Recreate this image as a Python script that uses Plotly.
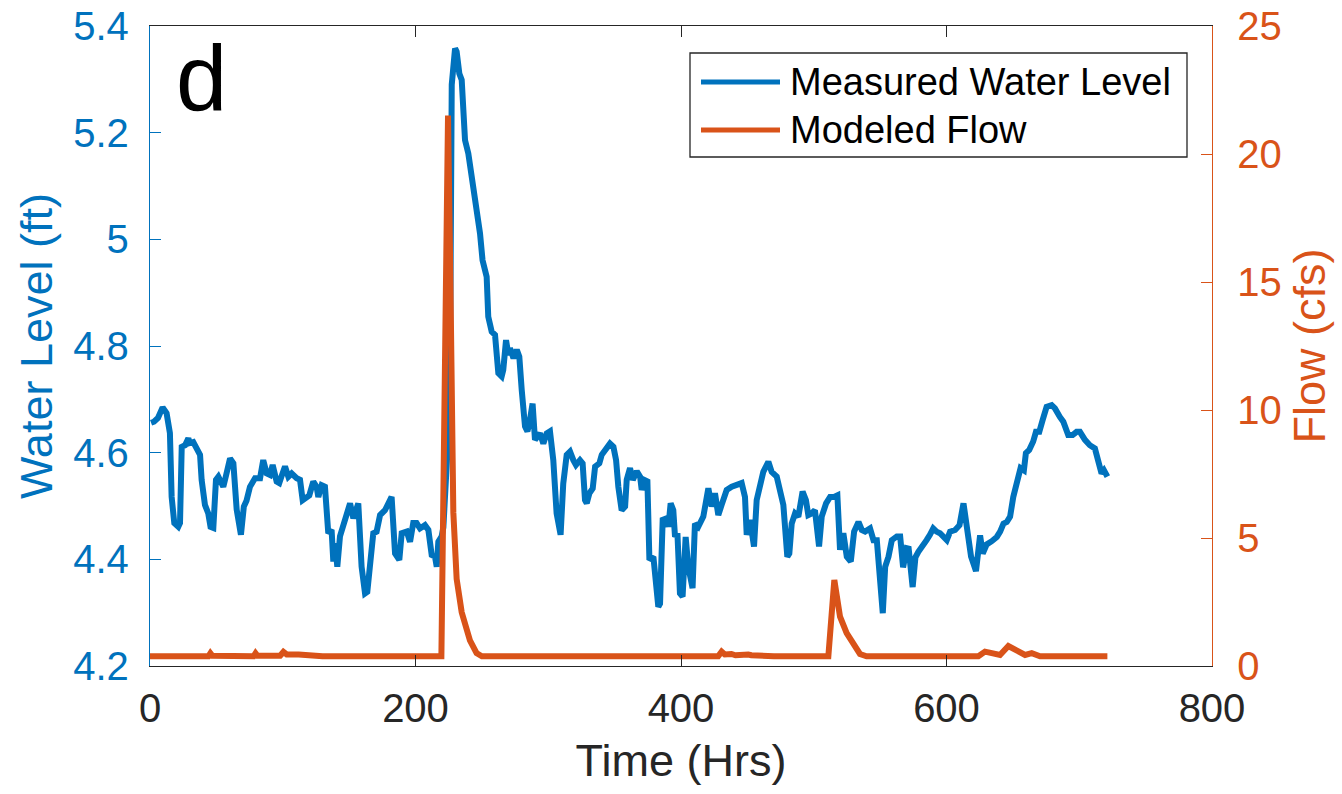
import plotly.graph_objects as go

# ---- data ----
level_hours = [0.8, 3, 6, 9.5, 12.5, 15, 16.3, 18.3, 21.3, 22.6, 23.9, 26.4, 28.9, 30, 32.6, 35, 37.7, 38.9,
               41.4, 43.9, 45.6, 47.7, 49.7, 51.5, 53.5, 55.2, 56.5, 58.2, 60.3, 62.8, 65.3, 68.5, 70.7, 72.7,
               75.3, 79.1, 82.9, 85.3, 87.9, 90.4, 92.4, 95.4, 97.4, 99, 101.7, 104.2, 106.7, 110.5, 113, 115,
               117.5, 120, 123, 125.5, 126.8, 129.3, 131.8, 134.3, 136.8, 138.1, 139.4, 141.1, 143.1, 146.1,
               149.4, 150.7, 153.2, 156.9, 159.4, 162, 163.7, 165.7, 168.2, 170.7, 173.3, 177, 180.3, 182,
               184.6, 187.8, 189.6, 193.4, 195.9, 198.3, 200.8, 203.4, 207.1, 209.7, 212.2, 214.7, 216, 217.2,
               219.7, 221, 224, 226, 227.3, 228.5, 229.8, 231, 233, 234.8, 236, 237.3, 239.8, 242.3, 244.8,
               248.6, 250.5, 253.6, 254.8, 257.4, 259.9, 262.4, 264.9, 266.1, 268.2, 270, 271.2, 273.8, 276.3,
               278.2, 280, 282.5, 284.3, 285.8, 288.2, 290, 293.8, 296.3, 298.8, 301.3, 303.8, 306.3, 309.3,
               311.3, 313.9, 316.4, 318.9, 320.9, 323.9, 325.9, 327.7, 329, 331, 333.5, 335.3, 338.5, 340.3,
               342.8, 346.5, 349.1, 351.1, 352.8, 355.3, 357.9, 359.1, 361.6, 363.7, 366.7, 369.2, 370.4,
               372.2, 374.7, 376.2, 379.2, 381.3, 382.9, 384.2, 386.2, 389.2, 390.5, 392.2, 394.2, 395.5,
               397.3, 399.2, 401.2, 403.5, 405.5, 408.7, 410.5, 413, 416.8, 420.6, 423.1, 425.6, 428.1, 430.6,
               434.4, 438.2, 441.9, 445.7, 448.2, 449.5, 452, 455, 457, 459.5, 462, 465.8, 468.3, 472.1, 474.6,
               477.1, 480.1, 481.6, 483.4, 485.9, 488.4, 491.6, 494.1, 495.9, 498.4, 500.9, 504, 506, 509.3,
               512.3, 515.3, 517.8, 519.8, 522.3, 524.9, 527.9, 530.4, 533.7, 536.2, 538.7, 542.4, 545, 547.5,
               550, 552, 553.8, 556.3, 558.8, 562.6, 565.1, 567.3, 570, 571.5, 574.5, 576.6, 578.8, 582.5, 585,
               587.5, 590, 592.5, 595.1, 600.2, 602.7, 606.5, 609.8, 612.8, 615.3, 618.5, 622.2, 625.3, 627.3,
               630.3, 634.1, 637.9, 640.4, 642.9, 645.4, 647.9, 650.3, 652.8, 655.8, 658.3, 659.8, 662.3, 665.3,
               667.4, 669.9, 672.4, 675.4, 679.2, 681.7, 685.4, 688, 691.7, 695, 698, 700.5, 704.3, 708, 711.8,
               714.3, 716.8, 718.6, 721.2]
water_level = [4.656, 4.658, 4.665, 4.685, 4.674, 4.637, 4.517, 4.468, 4.461, 4.468, 4.611, 4.614, 4.627, 4.618,
               4.62, 4.611, 4.596, 4.549, 4.502, 4.486, 4.461, 4.459, 4.549, 4.555, 4.546, 4.536, 4.549, 4.571,
               4.589, 4.58, 4.493, 4.446, 4.499, 4.51, 4.536, 4.552, 4.552, 4.586, 4.561, 4.558, 4.577, 4.546,
               4.543, 4.555, 4.574, 4.555, 4.561, 4.552, 4.549, 4.511, 4.517, 4.52, 4.546, 4.536, 4.517, 4.539,
               4.536, 4.449, 4.455, 4.396, 4.43, 4.386, 4.443, 4.468, 4.489, 4.505, 4.477, 4.505, 4.386, 4.336,
               4.339, 4.396, 4.449, 4.452, 4.483, 4.492, 4.508, 4.517, 4.411, 4.399, 4.449, 4.452, 4.433, 4.468,
               4.468, 4.458, 4.464, 4.455, 4.408, 4.405, 4.386, 4.433, 4.443, 4.46, 4.6, 4.76, 5.29, 5.34, 5.358,
               5.352, 5.311, 5.299, 5.255, 5.186, 5.161, 5.118, 5.086, 5.011, 4.961, 4.93, 4.855, 4.827, 4.821,
               4.749, 4.743, 4.755, 4.811, 4.783, 4.796, 4.777, 4.793, 4.78, 4.718, 4.649, 4.64, 4.655, 4.692,
               4.624, 4.636, 4.617, 4.636, 4.64, 4.586, 4.486, 4.446, 4.542, 4.596, 4.602, 4.586, 4.577, 4.586,
               4.58, 4.511, 4.505, 4.524, 4.533, 4.574, 4.58, 4.596, 4.605, 4.617, 4.611, 4.586, 4.536, 4.492,
               4.499, 4.549, 4.571, 4.549, 4.565, 4.555, 4.53, 4.549, 4.546, 4.399, 4.405, 4.361, 4.311, 4.317,
               4.474, 4.477, 4.461, 4.505, 4.492, 4.442, 4.449, 4.336, 4.33, 4.442, 4.386, 4.346, 4.467, 4.461,
               4.48, 4.533, 4.499, 4.524, 4.483, 4.502, 4.53, 4.536, 4.539, 4.543, 4.517, 4.446, 4.474, 4.424,
               4.511, 4.543, 4.564, 4.583, 4.564, 4.555, 4.524, 4.502, 4.405, 4.411, 4.467, 4.486, 4.48, 4.527,
               4.511, 4.483, 4.486, 4.492, 4.424, 4.48, 4.505, 4.517, 4.517, 4.52, 4.418, 4.449, 4.405, 4.396,
               4.452, 4.47, 4.455, 4.452, 4.458, 4.436, 4.436, 4.355, 4.299, 4.386, 4.405, 4.436, 4.443, 4.443,
               4.385, 4.421, 4.42, 4.348, 4.404, 4.414, 4.43, 4.436, 4.446, 4.458, 4.452, 4.449, 4.436, 4.452,
               4.455, 4.464, 4.505, 4.458, 4.405, 4.378, 4.445, 4.411, 4.428, 4.434, 4.442, 4.452, 4.467, 4.47,
               4.48, 4.517, 4.542, 4.571, 4.567, 4.599, 4.605, 4.621, 4.639, 4.639, 4.661, 4.686, 4.689, 4.683,
               4.667, 4.658, 4.633, 4.633, 4.639, 4.639, 4.624, 4.614, 4.608, 4.58, 4.561, 4.567, 4.555]

flow_hours = [0, 44, 45.5, 47, 78, 79.5, 81, 98, 100.5, 103, 112, 130, 219.5, 224.5, 226.3, 228.5, 231, 234.8,
              241, 246, 250, 428, 430.6, 433, 438, 441, 450.7, 453, 470, 511, 515.5, 519.8, 524.8, 529.8,
              534.8, 539.8, 624, 629, 640.3, 646.6, 652.9, 659.2, 664.2, 670.5, 721.2]
modeled_flow = [0.38, 0.38, 0.5, 0.4, 0.38, 0.5, 0.4, 0.4, 0.55, 0.45, 0.45, 0.38, 0.38, 21.5, 15, 6, 3.4, 2.1,
                1.0, 0.5, 0.38, 0.38, 0.56, 0.45, 0.47, 0.42, 0.45, 0.42, 0.38, 0.38, 3.36, 1.93, 1.28, 0.82,
                0.47, 0.38, 0.38, 0.56, 0.43, 0.78, 0.62, 0.43, 0.5, 0.38, 0.38]

series_names = ["Measured Water Level", "Modeled Flow"]
x_ticks = [0, 200, 400, 600, 800]
level_ticks = [4.2, 4.4, 4.6, 4.8, 5.0, 5.2, 5.4]
level_tick_labels = ["4.2", "4.4", "4.6", "4.8", "5", "5.2", "5.4"]
flow_ticks = [0, 5, 10, 15, 20, 25]

BLUE = "#0072BD"
ORANGE = "#D95319"
DARK = "#262626"
FONT = "Liberation Sans, Arial, Helvetica, sans-serif"

fig = go.Figure()
fig.add_trace(go.Scatter(x=level_hours, y=water_level, mode="lines", name=series_names[0],
                         line=dict(color=BLUE, width=6), yaxis="y", showlegend=False))
fig.add_trace(go.Scatter(x=flow_hours, y=modeled_flow, mode="lines", name=series_names[1],
                         line=dict(color=ORANGE, width=6), yaxis="y2", showlegend=False))

W, H = 1342, 794
L, R, T, B = 150, 130, 26, 128
pw, ph = W - L - R, H - T - B


def px_x(px):
    return (px - L) / pw


def px_y(py):
    return (H - B - py) / ph


fig.update_layout(
    width=W, height=H,
    margin=dict(l=L, r=R, t=T, b=B, pad=0, autoexpand=False),
    paper_bgcolor="white", plot_bgcolor="white",
    font=dict(family=FONT, color=DARK),
    xaxis=dict(range=[0, 800], tickvals=x_ticks, ticks="inside", ticklen=11, tickwidth=1.3,
               tickcolor=DARK, showline=True, linecolor=DARK, linewidth=1.3, mirror="ticks",
               showgrid=False, zeroline=False, tickfont=dict(size=40, color=DARK),
               ticklabelstandoff=7, automargin=False,
               title=dict(text="Time (Hrs)", font=dict(size=45, color=DARK), standoff=15)),
    yaxis=dict(range=[4.2, 5.4], tickvals=level_ticks, ticktext=level_tick_labels, ticks="inside",
               ticklen=11, tickwidth=1.3, tickcolor=BLUE, showline=True, linecolor=BLUE, linewidth=1.3,
               showgrid=False, zeroline=False, tickfont=dict(size=40, color=BLUE),
               ticklabelstandoff=12, automargin=False,
               title=dict(text="Water Level (ft)", font=dict(size=45, color=BLUE), standoff=6)),
    yaxis2=dict(range=[0, 25], tickvals=flow_ticks, ticks="inside", ticklen=11, tickwidth=1.3,
                tickcolor=ORANGE, showline=True, linecolor=ORANGE, linewidth=1.3, overlaying="y",
                side="right", showgrid=False, zeroline=False, tickfont=dict(size=40, color=ORANGE),
                ticklabelstandoff=16, automargin=False,
                title=dict(text="Flow (cfs)", font=dict(size=45, color=ORANGE), standoff=12)),
    showlegend=False,
)

# panel letter
fig.add_annotation(text="d", xref="paper", yref="paper", x=px_x(174), y=px_y(78),
                   xanchor="left", yanchor="middle", showarrow=False,
                   font=dict(size=92, color="black", family=FONT))

# legend box (drawn)
fig.add_shape(type="rect", xref="paper", yref="paper", x0=px_x(690), x1=px_x(1187), y0=px_y(157),
              y1=px_y(53), line=dict(color=DARK, width=1.3), fillcolor="white", layer="above")
for i, (name, col) in enumerate(zip(series_names, [BLUE, ORANGE])):
    yy = px_y(82 + i * 48)
    fig.add_shape(type="line", xref="paper", yref="paper", x0=px_x(701), x1=px_x(780), y0=yy, y1=yy,
                  line=dict(color=col, width=5), layer="above")
    fig.add_annotation(text=name, xref="paper", yref="paper", x=px_x(788), y=yy, xanchor="left",
                       yanchor="middle", showarrow=False, font=dict(size=38, color="black", family=FONT))

fig.write_html("out.html")
